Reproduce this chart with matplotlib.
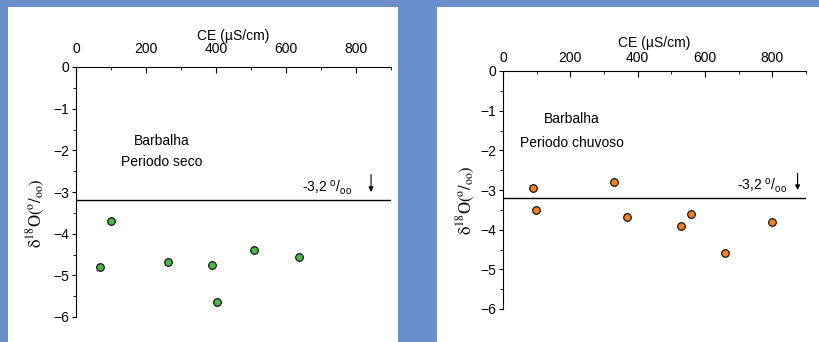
import matplotlib
matplotlib.use("Agg")
import matplotlib.pyplot as plt
from matplotlib.patches import Rectangle
from matplotlib.ticker import MultipleLocator

plt.rcParams["font.family"] = ["Liberation Sans", "DejaVu Sans"]
plt.rcParams["mathtext.fontset"] = "custom"
plt.rcParams["mathtext.rm"] = "Liberation Sans"

# ── dados ─────────────────────────────────────────────────────────────
seco_ce = [70, 100, 263, 388, 402, 509, 638]
seco_d18o = [-4.80, -3.69, -4.67, -4.74, -5.63, -4.39, -4.57]

chuv_ce = [88, 98, 329, 369, 529, 558, 658, 798]
chuv_d18o = [-2.96, -3.50, -2.81, -3.67, -3.91, -3.61, -4.60, -3.81]

limite = -3.2
x_ticks = [0, 200, 400, 600, 800]
y_ticks = [0, -1, -2, -3, -4, -5, -6]

W, H = 820, 342
BLUE = "#6b8fca"

fig = plt.figure(figsize=(W / 100, H / 100), dpi=100, facecolor=BLUE)
# painéis brancos
for x0, x1 in [(8, 398), (437, 820)]:
    fig.patches.append(Rectangle((x0 / W, 0), (x1 - x0) / W, 1 - 7 / H,
                                 transform=fig.transFigure, facecolor="white",
                                 edgecolor="none", zorder=-5))


def panel(rect, ce, d18o, color, title, title_xy, lbl_x, arrow_x,
          ylab_xy, xpad, xlabelpad):
    l, t, r, b = rect
    ax = fig.add_axes([l / W, 1 - b / H, (r - l) / W, (b - t) / H])
    ax.set_zorder(2)
    ax.set_facecolor("none")
    ax.set_xlim(0, 900)
    ax.set_ylim(-6, 0)
    for s in ["bottom", "right"]:
        ax.spines[s].set_visible(False)
    ax.xaxis.tick_top()
    ax.xaxis.set_label_position("top")
    ax.set_xticks(x_ticks)
    ax.set_yticks(y_ticks)
    ax.xaxis.set_minor_locator(MultipleLocator(100))
    ax.yaxis.set_minor_locator(MultipleLocator(0.5))
    ax.tick_params(axis="x", direction="in", length=4, labelsize=10, pad=xpad)
    ax.tick_params(axis="x", which="minor", direction="in", length=2)
    ax.tick_params(axis="y", direction="out", length=3, labelsize=10, pad=2)
    ax.tick_params(axis="y", which="minor", direction="out", length=2)
    ax.set_xlabel("CE (\u00b5S/cm)", fontsize=10, labelpad=xlabelpad)

    ax.axhline(limite, color="black", lw=1)
    ax.scatter(ce, d18o, s=30, color=color, edgecolors="black",
               linewidths=0.8, zorder=3, clip_on=False)

    ax.text(title_xy[0], title_xy[1][0], title[0], ha="center", va="center",
            fontsize=10)
    ax.text(title_xy[0], title_xy[1][1], title[1], ha="center", va="center",
            fontsize=10)
    ax.text(lbl_x, limite + 0.08, r"-3,2 $^{\mathrm{o}}/_{\mathrm{oo}}$",
            ha="right", va="bottom", fontsize=10)
    ax.annotate("", xy=(arrow_x, limite + 0.2), xytext=(arrow_x, limite + 0.62),
                arrowprops=dict(arrowstyle="-|>", color="black", lw=0.8,
                                mutation_scale=7, shrinkA=0, shrinkB=0))

    yl = ax.set_ylabel(r"$\mathrm{\delta}^{18}\mathrm{O}(^{\mathrm{o}}/_{\mathrm{oo}})$",
                       fontsize=12)
    yl.set_math_fontfamily("stix")
    ax.yaxis.set_label_coords(*ylab_xy)
    return ax


panel((76, 67, 391, 317), seco_ce, seco_d18o, "#4cb848",
      ("Barbalha", "Periodo seco"), (246, (-1.78, -2.28)), 790, 843,
      (-0.092, 0.416), 8, 1.5)
panel((503, 71, 806, 309), chuv_ce, chuv_d18o, "#f47f20",
      ("Barbalha", "Periodo chuvoso"), (205, (-1.21, -1.81)), 845, 875,
      (-0.087, 0.458), 4, 3)

fig.savefig("out.png", dpi=100, facecolor=BLUE)
